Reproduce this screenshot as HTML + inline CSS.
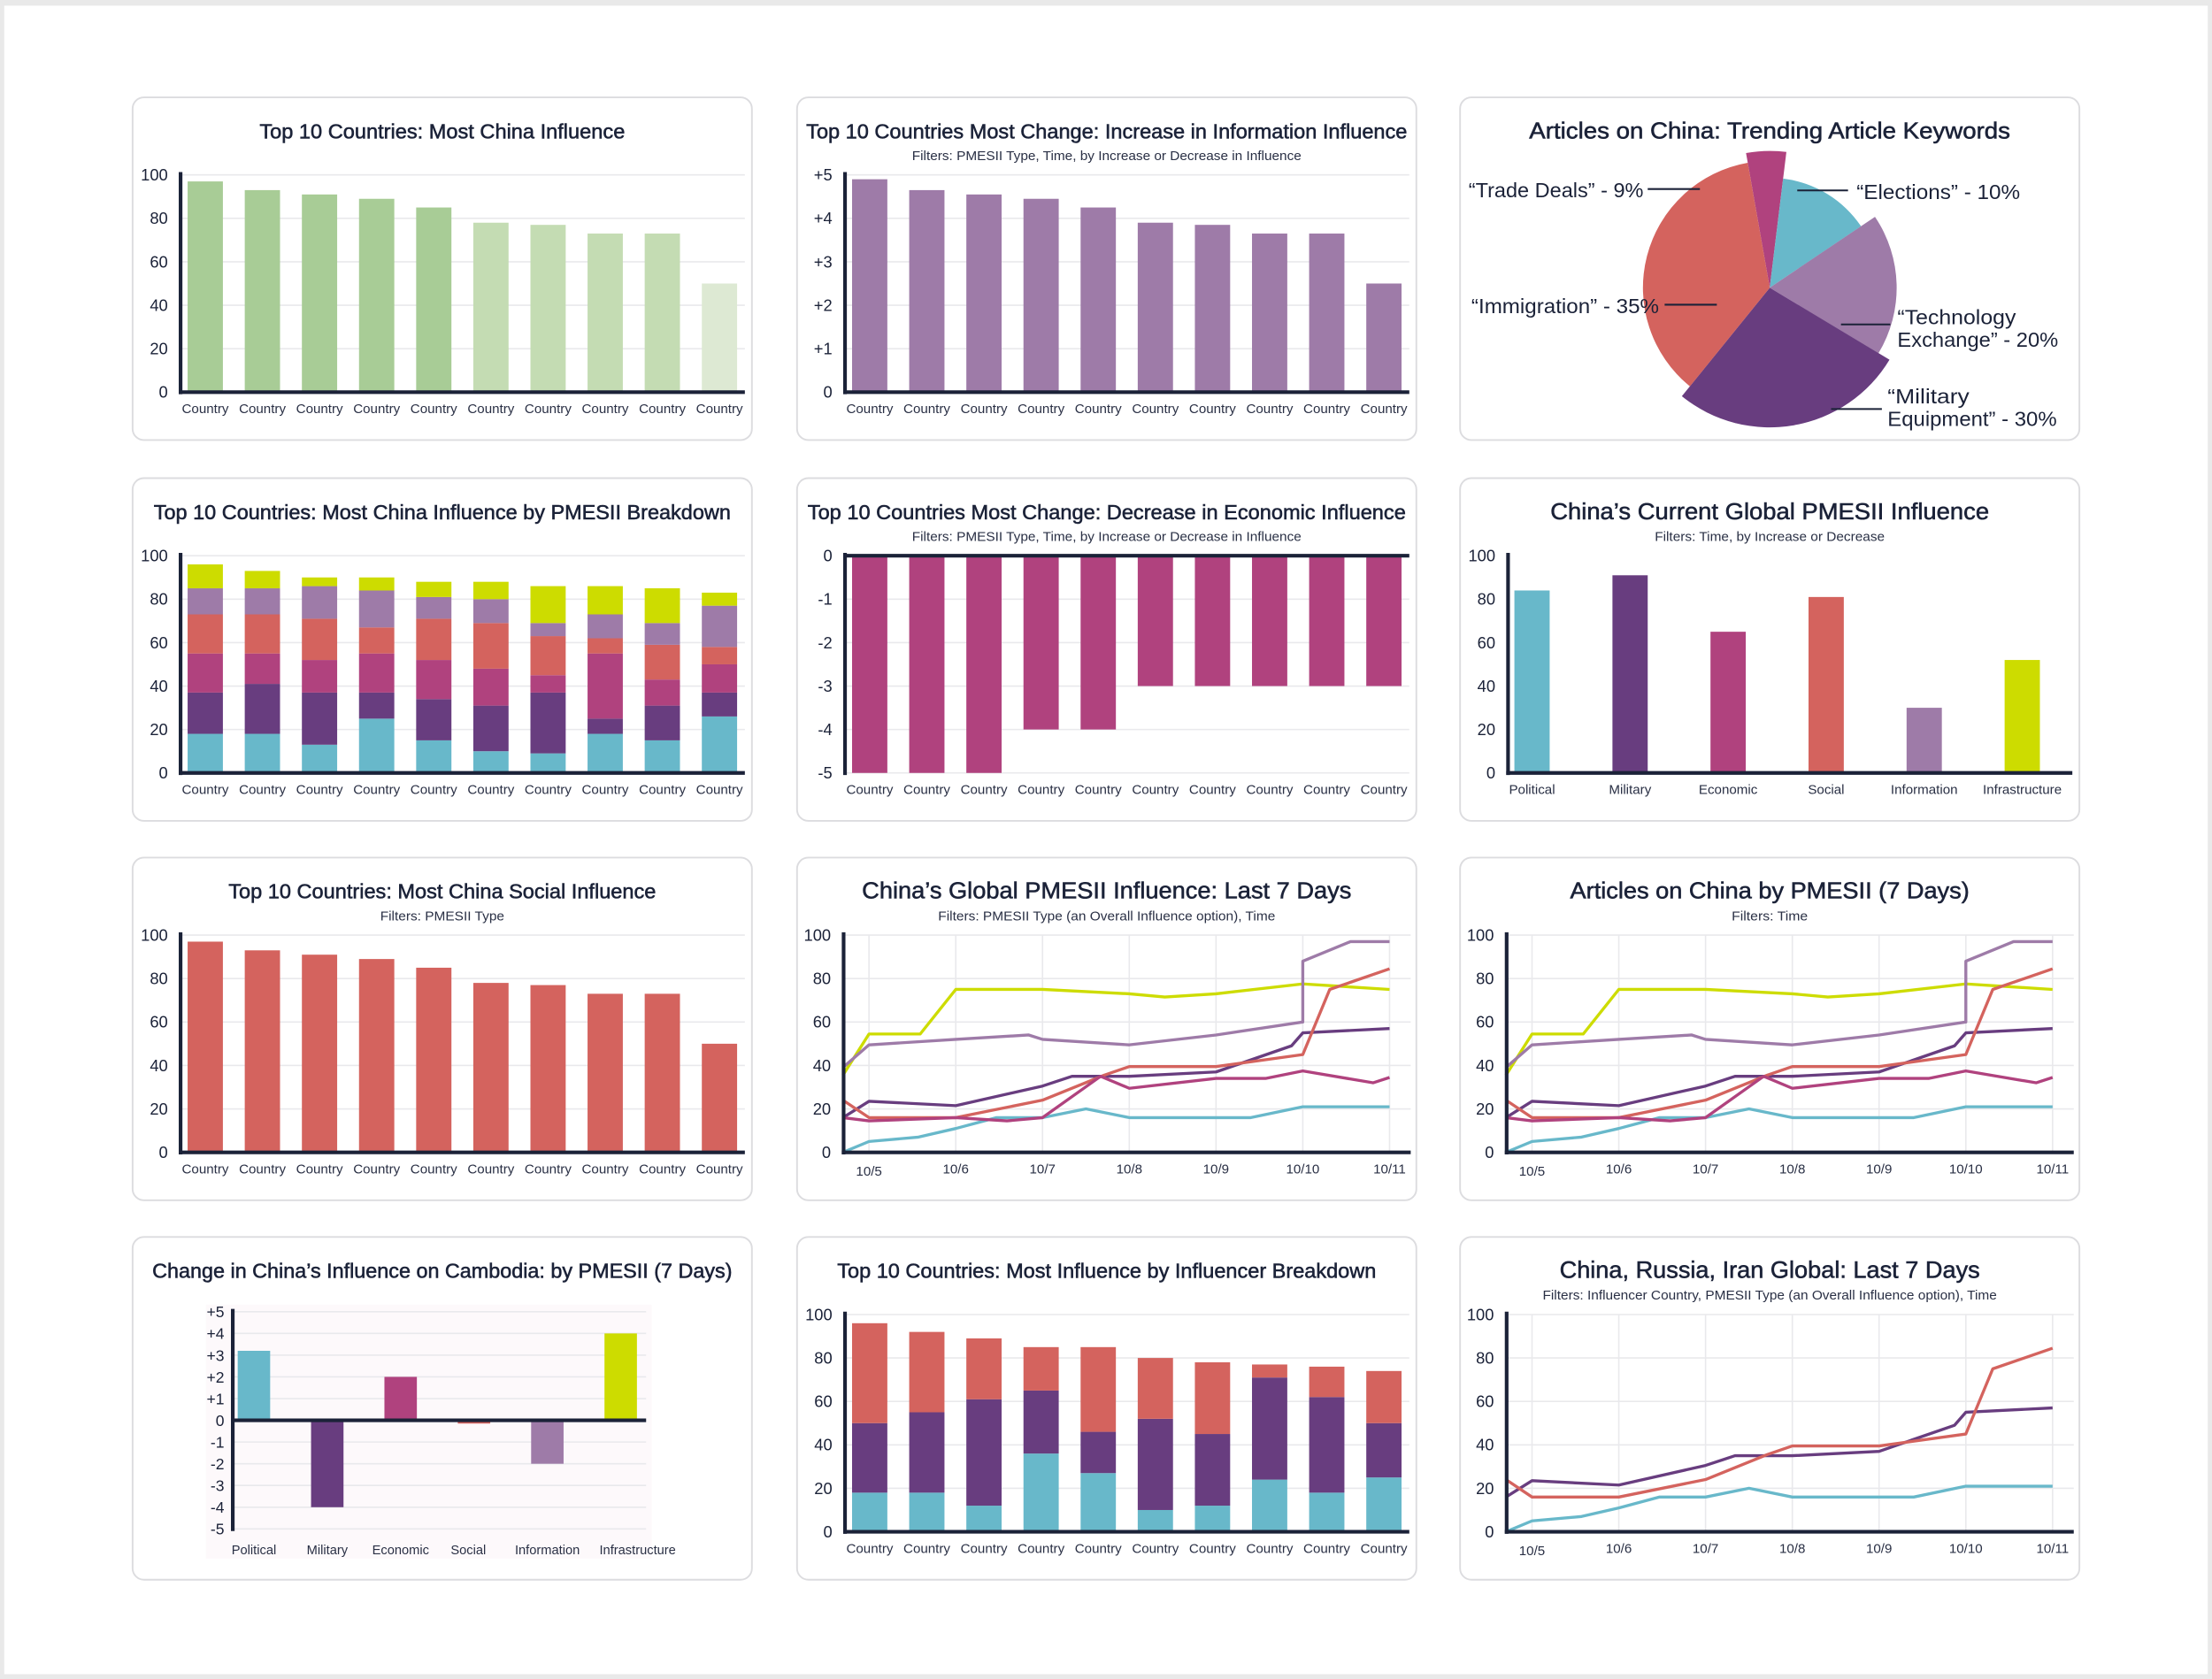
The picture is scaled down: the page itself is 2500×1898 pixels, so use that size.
<!DOCTYPE html>
<html><head><meta charset="utf-8"><title>China Influence Dashboard</title>
<style>
html,body{margin:0;padding:0;background:#fff;}
svg{display:block;font-family:"Liberation Sans",sans-serif;}
</style></head>
<body>
<svg id="dash" width="2500" height="1898" viewBox="0 0 1568 1190.4" xmlns="http://www.w3.org/2000/svg"></svg>
<script>
// ---------- DATA ----------
const countries = ["Country","Country","Country","Country","Country","Country","Country","Country","Country","Country"];
const pmesii = ["Political","Military","Economic","Social","Information","Infrastructure"];
const influenceValues = [97,93,91,89,85,78,77,73,73,50];
const infoIncrease = [4.9,4.65,4.55,4.45,4.25,3.9,3.85,3.65,3.65,2.5];
const socialValues = [97,93,91,89,85,78,77,73,73,50];
const econDecrease = [-5,-5,-5,-4,-4,-3,-3,-3,-3,-3];
const currentPmesii = [84,91,65,81,30,52];
const cambodiaChange = [3.2,-4,2,-0.15,-2,4];
const stackPolitical = [18,18,13,25,15,10,9,18,15,26];
const stackMilitary = [19,23,24,12,19,21,28,7,16,11];
const stackEconomic = [18,14,15,18,18,17,8,30,12,13];
const stackSocial = [18,18,19,12,19,21,18,7,16,8];
const stackInformation = [12,12,15,17,10,11,6,11,10,19];
const stackInfrastructure = [11,8,4,6,7,8,17,13,16,6];
const inflChina = [18,18,12,36,27,10,12,24,18,25];
const inflRussia = [32,37,49,29,19,42,33,47,44,25];
const inflIran = [46,37,28,20,39,28,33,6,14,24];
const dateLabels = ["10/5","10/6","10/7","10/8","10/9","10/10","10/11"];
const ticks100 = [0,20,40,60,80,100];
const ticksPlus5 = ["0","+1","+2","+3","+4","+5"];
const ticksMinus5 = ["0","-1","-2","-3","-4","-5"];
const ticksCambodia = ["+5","+4","+3","+2","+1","0","-1","-2","-3","-4","-5"];
// line series: day index (0 = 10/5) and value
const polDays = [-0.3,0,0.57,1,1.47,2,2.5,3,3.5,4,4.4,5,6];
const polVals = [0,5,7,11,16,16,20,16,16,16,16,21,21];
const infraDays = [-0.3,0,0.59,1,2,3,3.41,4,5,6];
const infraVals = [35.5,54.5,54.5,75,75,73,71.5,73,77.5,75];
const infoDays = [-0.3,0,1,1.84,2,3,4,5,5,5.55,6];
const infoVals = [39,49.5,52,54,52,49.5,54,60,88,97,97];
const milDays = [-0.3,0,1,2,2.34,3,4,4.87,5,6];
const milVals = [16,23.5,21.5,30.5,35,35,37,49,55,57];
const socDays = [-0.3,0,1,2,2.71,3,4,5,5.31,6];
const socVals = [24,16,16,24,35.5,39.5,39.5,45,75,84.5];
const ecoDays = [-0.3,0,1,1.59,2,2.67,3,4,4.57,5,5.81,6];
const ecoVals = [16,14.5,16,14.5,16,35,29.5,34,34,37.5,32,34.5];
// pie (angular share in degrees, clockwise from top, starting at -10deg)
const pieLabels = ["Trade Deals","Elections","Technology Exchange","Military Equipment","Immigration"];
const pieShares = [17,49,65,98,131];
const piePercents = [9,10,20,30,35];

// ---------- STYLE ----------
const C = {navy:"#1b2238",grid:"#e9e9ec",cyan:"#68b8ca",dpurple:"#683d7f",mag:"#b0427e",coral:"#d4635e",lav:"#9e7ba8",lime:"#cddc00",g1:"#a8cc96",g2:"#c4dcb3",g3:"#dde9d3"};
const NS="http://www.w3.org/2000/svg";
const svg=document.getElementById('dash');
function mk(tag,parent,attrs){const e=document.createElementNS(NS,tag);for(const k in attrs)e.setAttribute(k,attrs[k]);(parent||svg).appendChild(e);return e;}
function txt(parent,x,y,s,size,anchor,fill,len){const t=mk('text',parent,{x:x,y:y,'font-size':size,'text-anchor':anchor||'middle',fill:fill||C.navy});if(len){t.setAttribute('textLength',len);t.setAttribute('lengthAdjust','spacingAndGlyphs');}t.textContent=s;return t;}

// page frame
const frame=mk('rect',svg,{x:0,y:0,width:1568,height:1190.4,fill:'#e9e9e9'});


const page=mk('rect',svg,{x:3,y:4,width:1562,height:1183,fill:'#ffffff'});



const colX=[94,565,1035], rowY=[69,339,608,877], PW=439, PH=243;
function panel(r,c,name,title,tlen,tsize,sub,slen){
  const px=colX[c],py=rowY[r];
  const g=mk('g',svg,{});
  
  
  mk('rect',g,{x:px,y:py,width:PW,height:PH,rx:8,fill:'#fff',stroke:'#dcdcdf','stroke-width':1.2});
  const t=txt(g,px+PW/2,py+29,title,tsize,'middle',C.navy,tlen);
  t.setAttribute('stroke',C.navy);
  t.setAttribute('stroke-width','0.35');
  
  
  if(sub){const s=txt(g,px+PW/2,py+44.5,sub,9,'middle','#2a3045',slen);
    
    }
  return {g,px,py};
}
function hgrid(g,x0,x1,y){mk('line',g,{x1:x0,x2:x1,y1:y,y2:y,stroke:C.grid,'stroke-width':1});}
function axisLines(g,ax,top,bot,right,zeroY){
  const va=mk('line',g,{x1:ax,x2:ax,y1:top-2,y2:bot+1.5,stroke:C.navy,'stroke-width':2.6});
  
  
  const ha=mk('line',g,{x1:ax-1.3,x2:right,y1:zeroY,y2:zeroY,stroke:C.navy,'stroke-width':2.6});
  
  
}
function yTicks(g,ax,labels,yOf,vals,size){
  labels.forEach((l,i)=>{const t=txt(g,ax-9,yOf(vals[i])+4,l,size||11.5,'end');
    
    });
}

// generic 10-country vertical bar chart
function tenBar(p,values,min,max,tickLabels,tickVals,colors){
  const {g,px,py}=p;const ax=px+34,right=px+434,top=py+55,bot=py+209;
  const yOf=v=>bot-(v-min)/(max-min)*(bot-top);
  tickVals.forEach(v=>hgrid(g,ax,right,yOf(v)));
  const bw=25,pitch=40.5;
  values.forEach((v,i)=>{
    const x=ax+5+i*pitch;const y0=yOf(0),y1=yOf(v);
    const b=mk('rect',g,{x:x,y:Math.min(y0,y1),width:bw,height:Math.abs(y1-y0),fill:colors[i]});
    
    
    const l=txt(g,x+bw/2,py+224,countries[i],9.5,'middle','#2a3045');
    
    
  });
  axisLines(g,ax,top,bot,right,yOf(0));
  yTicks(g,ax,tickLabels,yOf,tickVals);
}
function stacked(p,layers,layerColors){
  const {g,px,py}=p;const ax=px+34,right=px+434,top=py+55,bot=py+209;
  const yOf=v=>bot-v/100*(bot-top);
  ticks100.forEach(v=>hgrid(g,ax,right,yOf(v)));
  const bw=25,pitch=40.5;
  countries.forEach((c,i)=>{
    const x=ax+5+i*pitch;let acc=0;
    layers.forEach((L,j)=>{
      const y1=yOf(acc+L[i]),y0=yOf(acc);acc+=L[i];
      const s=mk('rect',g,{x:x,y:y1,width:bw,height:y0-y1,fill:layerColors[j]});
      
      
    });
    const l=txt(g,x+bw/2,py+224,c,9.5,'middle','#2a3045');
    
    
  });
  axisLines(g,ax,top,bot,right,bot);
  yTicks(g,ax,ticks100.map(String),yOf,ticks100);
}
function lineChart(p,series,colors,names){
  const {g,px,py}=p;const ax=px+33,right=px+435,top=py+55,bot=py+209;
  const d0=px+51,dw=61.5;
  const xOf=d=>d0+d*dw, yOf=v=>bot-v/100*(bot-top);
  ticks100.forEach(v=>hgrid(g,ax,right,yOf(v)));
  dateLabels.forEach((d,i)=>{
    mk('line',g,{x1:xOf(i),x2:xOf(i),y1:top,y2:bot,stroke:C.grid,'stroke-width':1});
    const l=txt(g,xOf(i),py+224+(i===0?1.5:0),d,9.5,'middle','#2a3045');
    
    
  });
  series.forEach((s,k)=>{
    const pts=s[0].map((d,i)=>xOf(d).toFixed(1)+','+yOf(s[1][i]).toFixed(1)).join(' ');
    const pl=mk('polyline',g,{points:pts,fill:'none',stroke:colors[k],'stroke-width':2.1,'stroke-linejoin':'round'});
    
    
  });
  axisLines(g,ax,top,bot,right,bot);
  yTicks(g,ax,ticks100.map(String),yOf,ticks100);
}

// ---- Row 1 ----
let p=panel(0,0,'panel-most-china-influence','Top 10 Countries: Most China Influence',259,14.5);
tenBar(p,influenceValues,0,100,ticks100.map(String),ticks100,[C.g1,C.g1,C.g1,C.g1,C.g1,C.g2,C.g2,C.g2,C.g2,C.g3]);

p=panel(0,1,'panel-increase-information','Top 10 Countries Most Change: Increase in Information Influence',426,14.5,'Filters: PMESII Type, Time, by Increase or Decrease in Influence',276);
tenBar(p,infoIncrease,0,5,ticksPlus5,[0,1,2,3,4,5],Array(10).fill(C.lav));

// pie
p=panel(0,2,'panel-trending-keywords','Articles on China: Trending Article Keywords',341,16);
(function(){
  const g=p.g,cx=1254.5,cy=204;
  const radii=[97,78,90,99,90], cols=[C.mag,C.cyan,C.lav,C.dpurple,C.coral];
  let a=-10;
  pieShares.forEach((s,i)=>{
    const a0=a*Math.PI/180,a1=(a+s)*Math.PI/180;a+=s;const r=radii[i];
    const x0=cx+r*Math.sin(a0),y0=cy-r*Math.cos(a0),x1=cx+r*Math.sin(a1),y1=cy-r*Math.cos(a1);
    const path=mk('path',g,{d:`M${cx},${cy} L${x0.toFixed(1)},${y0.toFixed(1)} A${r},${r} 0 ${s>180?1:0} 1 ${x1.toFixed(1)},${y1.toFixed(1)} Z`,fill:cols[i]});
    
    
  });
  const lines=[[1168,1205,134],[1274,1310,135],[1180,1217,216],[1305,1340,230],[1298,1334,290]];
  lines.forEach(l=>{mk('line',g,{x1:l[0],x2:l[1],y1:l[2],y2:l[2],stroke:C.navy,'stroke-width':1.3});});
  const lbl=[
    [1041,140,'\u201c'+pieLabels[0]+'\u201d - '+piePercents[0]+'%',124],
    [1316,141,'\u201c'+pieLabels[1]+'\u201d - '+piePercents[1]+'%',116],
    [1043,222,'\u201cImmigration\u201d - '+piePercents[4]+'%',133],
    [1345,230,'\u201cTechnology',84],[1345,246,'Exchange\u201d - '+piePercents[2]+'%',114],
    [1338,286,'\u201cMilitary',58],[1338,302,'Equipment\u201d - '+piePercents[3]+'%',120]];
  lbl.forEach(l=>{const t=txt(g,l[0],l[1],l[2],14.5,'start',C.navy,l[3]);
    
    });
})();

// ---- Row 2 ----
p=panel(1,0,'panel-pmesii-breakdown','Top 10 Countries: Most China Influence by PMESII Breakdown',409,14.5);
stacked(p,[stackPolitical,stackMilitary,stackEconomic,stackSocial,stackInformation,stackInfrastructure],[C.cyan,C.dpurple,C.mag,C.coral,C.lav,C.lime]);

p=panel(1,1,'panel-decrease-economic','Top 10 Countries Most Change: Decrease in Economic Influence',424,14.5,'Filters: PMESII Type, Time, by Increase or Decrease in Influence',276);
(function(){
  const {g,px,py}=p;const ax=px+34,right=px+434,top=py+55,bot=py+209;
  const yOf=v=>top+(-v)/5*(bot-top);
  [0,-1,-2,-3,-4,-5].forEach(v=>hgrid(g,ax,right,yOf(v)));
  econDecrease.forEach((v,i)=>{
    const x=ax+5+i*40.5;
    const b=mk('rect',g,{x:x,y:yOf(0),width:25,height:yOf(v)-yOf(0),fill:C.mag});
    
    
    const l=txt(g,x+12.5,py+224,countries[i],9.5,'middle','#2a3045');
    
    
  });
  axisLines(g,ax,top,bot,right,yOf(0));
  yTicks(g,ax,ticksMinus5,yOf,[0,-1,-2,-3,-4,-5]);
})();

p=panel(1,2,'panel-current-pmesii','China\u2019s Current Global PMESII Influence',311,16.5,'Filters: Time, by Increase or Decrease',163);
(function(){
  const {g,px,py}=p;const ax=px+34,right=px+434,top=py+55,bot=py+209;
  const yOf=v=>bot-v/100*(bot-top);const cols=[C.cyan,C.dpurple,C.mag,C.coral,C.lav,C.lime];
  currentPmesii.forEach((v,i)=>{
    const cx=ax+17+i*69.5;
    const b=mk('rect',g,{x:cx-12.5,y:yOf(v),width:25,height:bot-yOf(v),fill:cols[i]});
    
    
    const l=txt(g,cx,py+224,pmesii[i],9.5,'middle','#2a3045');
    
    
  });
  axisLines(g,ax,top,bot,right,bot);
  yTicks(g,ax,ticks100.map(String),yOf,ticks100);
})();

// ---- Row 3 ----
p=panel(2,0,'panel-social-influence','Top 10 Countries: Most China Social Influence',303,14.5,'Filters: PMESII Type',88);
tenBar(p,socialValues,0,100,ticks100.map(String),ticks100,Array(10).fill(C.coral));

p=panel(2,1,'panel-pmesii-7-days','China\u2019s Global PMESII Influence: Last 7 Days',347,16.5,'Filters: PMESII Type (an Overall Influence option), Time',239);
lineChart(p,[[polDays,polVals],[infraDays,infraVals],[infoDays,infoVals],[milDays,milVals],[socDays,socVals],[ecoDays,ecoVals]],[C.cyan,C.lime,C.lav,C.dpurple,C.coral,C.mag],['political','infrastructure','information','military','social','economic']);

p=panel(2,2,'panel-articles-7-days','Articles on China by PMESII (7 Days)',283,16,'Filters: Time',54);
lineChart(p,[[polDays,polVals],[infraDays,infraVals],[infoDays,infoVals],[milDays,milVals],[socDays,socVals],[ecoDays,ecoVals]],[C.cyan,C.lime,C.lav,C.dpurple,C.coral,C.mag],['political','infrastructure','information','military','social','economic']);

// ---- Row 4 ----
p=panel(3,0,'panel-cambodia-change','Change in China\u2019s Influence on Cambodia: by PMESII (7 Days)',411,14.5);
(function(){
  const {g,px,py}=p;const ax=px+71,right=px+364,top=py+53,bot=py+207;
  mk('rect',g,{x:px+52,y:py+48,width:316,height:180,fill:'#fdf9fb'});
  const yOf=v=>top+(5-v)/10*(bot-top);
  const tv=[5,4,3,2,1,0,-1,-2,-3,-4,-5];
  tv.forEach(v=>hgrid(g,ax,right,yOf(v)));
  const cols=[C.cyan,C.dpurple,C.mag,C.coral,C.lav,C.lime];
  const labelShift=[0,0,0,-4,0,12];
  cambodiaChange.forEach((v,i)=>{
    const cx=ax+15+i*52;
    const b=mk('rect',g,{x:cx-11.5,y:Math.min(yOf(0),yOf(v)),width:23,height:Math.abs(yOf(v)-yOf(0)),fill:cols[i]});
    
    
    const l=txt(g,cx+labelShift[i],py+225,pmesii[i],9.2,'middle','#2a3045');
    
    
  });
  axisLines(g,ax,top,bot,right,yOf(0));
  tv.forEach((v,i)=>{const t=txt(g,ax-6,yOf(v)+4,ticksCambodia[i],11,'end');
    
    });
})();

p=panel(3,1,'panel-influencer-breakdown','Top 10 Countries: Most Influence by Influencer Breakdown',382,14.5);
stacked(p,[inflChina,inflRussia,inflIran],[C.cyan,C.dpurple,C.coral]);

p=panel(3,2,'panel-china-russia-iran','China, Russia, Iran Global: Last 7 Days',298,17,'Filters: Influencer Country, PMESII Type (an Overall Influence option), Time',322);
lineChart(p,[[polDays,polVals],[milDays,milVals],[socDays,socVals]],[C.cyan,C.dpurple,C.coral],['china','russia','iran']);
</script>
</body></html>
